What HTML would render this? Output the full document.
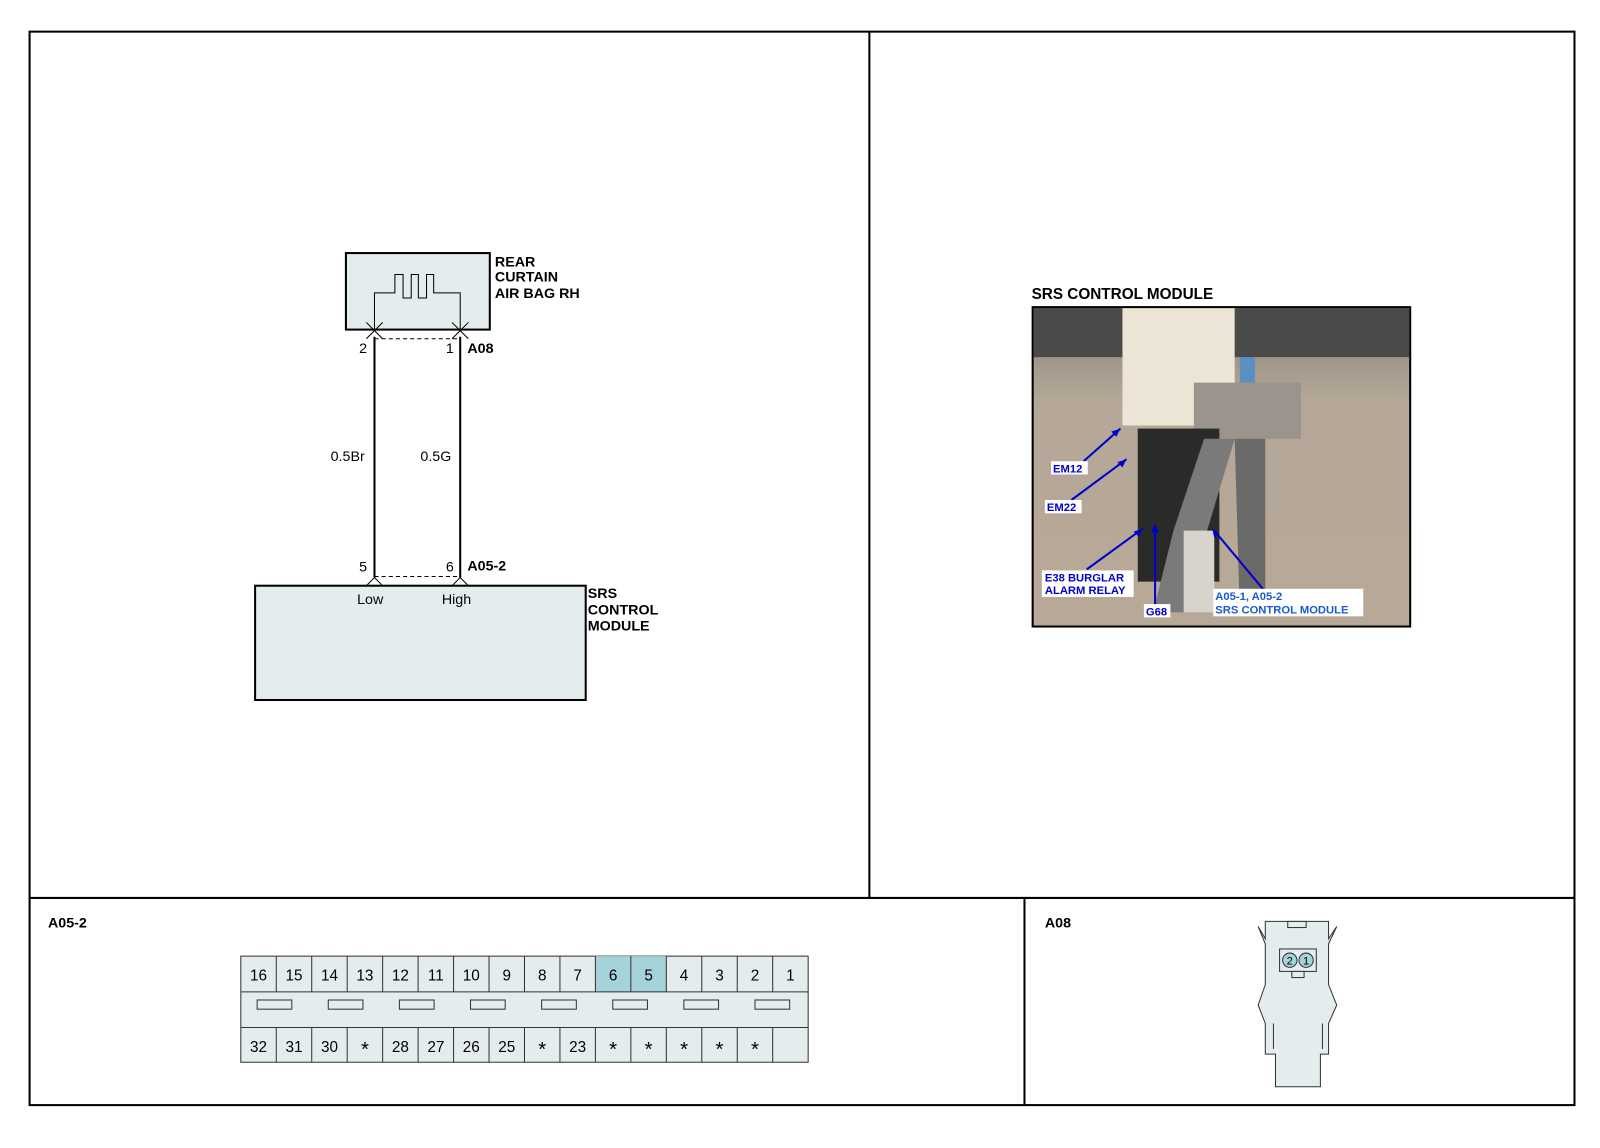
<!DOCTYPE html>
<html><head><meta charset="utf-8"><style>
body{margin:0;background:#fff;}
svg text{font-family:"Liberation Sans",sans-serif;}
</style></head><body>
<svg width="1600" height="1143" viewBox="0 0 1600 1143" xmlns="http://www.w3.org/2000/svg">
<defs>
<linearGradient id="bg" x1="0" y1="0" x2="0" y2="1"><stop offset="0" stop-color="#8a8378"/><stop offset="0.3" stop-color="#b5a898"/><stop offset="1" stop-color="#b8a898"/></linearGradient>
</defs>
<rect width="1600" height="1143" fill="#fff"/>
<g transform="scale(1.0204)">
<g fill="none" stroke="#000" stroke-width="2">
<rect x="29" y="31" width="1514" height="1052"/>
<line x1="29" y1="880" x2="1543" y2="880"/>
<line x1="852" y1="31" x2="852" y2="880"/>
<line x1="1004" y1="880" x2="1004" y2="1083"/>
</g>
<!-- airbag -->
<rect x="339" y="248" width="141" height="75" fill="#e4ecee" stroke="#000" stroke-width="2"/>
<path d="M367 324 V287 H387 V269 H395 V292 H403 V269 H410 V292 H418 V269 H425 V287 H451 V324" fill="none" stroke="#000" stroke-width="1"/>
<path d="M359 316 L367 324 L375 316 M443 316 L451 324 L459 316" fill="none" stroke="#000" stroke-width="1"/>
<path d="M359 332 L367 324 L375 332 M443 332 L451 324 L459 332" fill="none" stroke="#000" stroke-width="1"/>
<line x1="367" y1="332" x2="451" y2="332" stroke="#000" stroke-dasharray="4,3"/>
<line x1="367" y1="330" x2="367" y2="566" stroke="#000" stroke-width="2"/>
<line x1="451" y1="330" x2="451" y2="566" stroke="#000" stroke-width="2"/>
<line x1="367" y1="565" x2="451" y2="565" stroke="#000" stroke-dasharray="4,3"/>
<path d="M359 574 L367 566 L375 574 M443 574 L451 566 L459 574" fill="none" stroke="#000" stroke-width="1"/>
<rect x="250" y="574" width="324" height="112" fill="#e4ecee" stroke="#000" stroke-width="2"/>
<g font-size="14" fill="#000">
<text x="352" y="346">2</text><text x="437" y="346">1</text>
<text x="352" y="560">5</text><text x="437" y="560">6</text>
<text x="324" y="452">0.5Br</text><text x="412" y="452">0.5G</text>
<text x="350" y="592">Low</text><text x="433" y="592">High</text>
</g>
<g font-size="14" font-weight="bold" fill="#000">
<text x="458" y="346">A08</text><text x="458" y="559">A05-2</text>
<text x="485" y="261">REAR</text><text x="485" y="276">CURTAIN</text><text x="485" y="292">AIR BAG RH</text>
<text x="576" y="586">SRS</text><text x="576" y="602">CONTROL</text><text x="576" y="618">MODULE</text>
<text x="1011" y="293" font-size="15">SRS CONTROL MODULE</text>
<text x="47" y="909">A05-2</text><text x="1024" y="909">A08</text>
</g>
<!-- photo -->
<rect x="1012" y="301" width="370" height="313" fill="url(#bg)" stroke="#000" stroke-width="2"/>
<rect x="1013" y="302" width="368" height="48" fill="#4a4a48"/>
<rect x="1100" y="302" width="110" height="115" fill="#ece4d4"/>
<rect x="1170" y="375" width="105" height="55" fill="#9a948c"/>
<rect x="1215" y="350" width="15" height="25" fill="#5a8fc0"/>
<rect x="1115" y="420" width="80" height="150" fill="#2a2a28"/>
<path d="M1180 430 L1210 430 L1180 530 L1160 600 L1130 600 L1150 520 Z" fill="#7a7a78"/>
<path d="M1210 430 L1240 430 L1240 600 L1215 600 Z" fill="#6a6a68"/>
<rect x="1160" y="520" width="30" height="80" fill="#d8d4cc"/>
<g stroke="#0000cc" stroke-width="2" fill="none">
<line x1="1062" y1="452" x2="1098" y2="420"/><line x1="1050" y1="490" x2="1104" y2="450"/>
<line x1="1065" y1="558" x2="1120" y2="518"/><line x1="1132" y1="592" x2="1132" y2="515"/>
<line x1="1240" y1="580" x2="1190" y2="520"/>
</g>
<g fill="#0000cc"><path d="M1098 420 l-9 3 l5 5z"/><path d="M1104 450 l-9 3 l5 5z"/><path d="M1120 518 l-9 3 l5 5z"/><path d="M1132 513 l-4 9 h8z"/><path d="M1188 518 l2 9 l5 -4z"/></g>
<g fill="#fff"><rect x="1030" y="452" width="36" height="13"/><rect x="1024" y="490" width="36" height="13"/><rect x="1021" y="559" width="90" height="26"/><rect x="1121" y="592" width="26" height="13"/><rect x="1189" y="577" width="147" height="27"/></g>
<g font-size="11" font-weight="bold" fill="#0000cc">
<text x="1032" y="463">EM12</text><text x="1026" y="501">EM22</text>
<text x="1024" y="570">E38 BURGLAR</text><text x="1024" y="582">ALARM RELAY</text>
<text x="1123" y="603">G68</text>
<text x="1191" y="588" fill="#1a5ad0">A05-1, A05-2</text><text x="1191" y="601" fill="#1a5ad0">SRS CONTROL MODULE</text>
</g>
<!-- A05-2 connector -->
<rect x="236" y="937" width="556" height="104" fill="#e4ecee" stroke="#333"/>
<rect x="583.5" y="937" width="69.5" height="35" fill="#a6d2da"/>
<g stroke="#333" fill="none">
<line x1="236" y1="972" x2="792" y2="972"/><line x1="236" y1="1007" x2="792" y2="1007"/>
</g>
<g stroke="#333" id="cols"></g>
<g font-size="15" fill="#000" text-anchor="middle" id="nums"></g>
<!-- A08 connector -->
<g stroke="#333" stroke-width="1" fill="#e4ecee">
<path d="M1240 903 H1302 V920 L1310 908 L1302 925 V965 L1310 985 L1302 1003 V1033 H1294 V1065 H1250 V1033 H1240 V1003 L1233 985 L1240 965 V925 L1233 908 L1240 920 Z"/>
<rect x="1262" y="903" width="18" height="6"/>
<rect x="1254" y="930" width="36" height="22"/>
<rect x="1266" y="952" width="12" height="6"/>
<line x1="1248" y1="1003" x2="1248" y2="1028"/><line x1="1296" y1="1003" x2="1296" y2="1028"/>
<circle cx="1264" cy="941" r="7" fill="#a6d2da"/><circle cx="1280" cy="941" r="7" fill="#a6d2da"/>
</g>
<g font-size="11" fill="#000" text-anchor="middle"><text x="1264" y="945">2</text><text x="1280" y="945">1</text></g>
</g>
<script>
(function(){var ns="http://www.w3.org/2000/svg",c=document.getElementById("cols"),n=document.getElementById("nums"),w=556/16;
var top=["16","15","14","13","12","11","10","9","8","7","6","5","4","3","2","1"],bot=["32","31","30","*","28","27","26","25","*","23","*","*","*","*","*",""];
for(var i=0;i<16;i++){var x=236+i*w;if(i>0){[[937,972],[1007,1041]].forEach(function(r){var l=document.createElementNS(ns,"line");l.setAttribute("x1",x);l.setAttribute("x2",x);l.setAttribute("y1",r[0]);l.setAttribute("y2",r[1]);c.appendChild(l);});}
var t=document.createElementNS(ns,"text");t.setAttribute("x",x+w/2);t.setAttribute("y",961);t.textContent=top[i];n.appendChild(t);
var b=document.createElementNS(ns,"text");b.setAttribute("x",x+w/2);b.setAttribute("y",bot[i]=="*"?1035:1031);if(bot[i]=="*")b.setAttribute("font-size","20");b.textContent=bot[i];n.appendChild(b);}
for(var k=0;k<8;k++){var r=document.createElementNS(ns,"rect");r.setAttribute("x",252+k*69.7);r.setAttribute("y",980);r.setAttribute("width",34);r.setAttribute("height",9);r.setAttribute("fill","#e4ecee");r.setAttribute("stroke","#333");c.appendChild(r);}
})();
</script>
</svg>
</body></html>
